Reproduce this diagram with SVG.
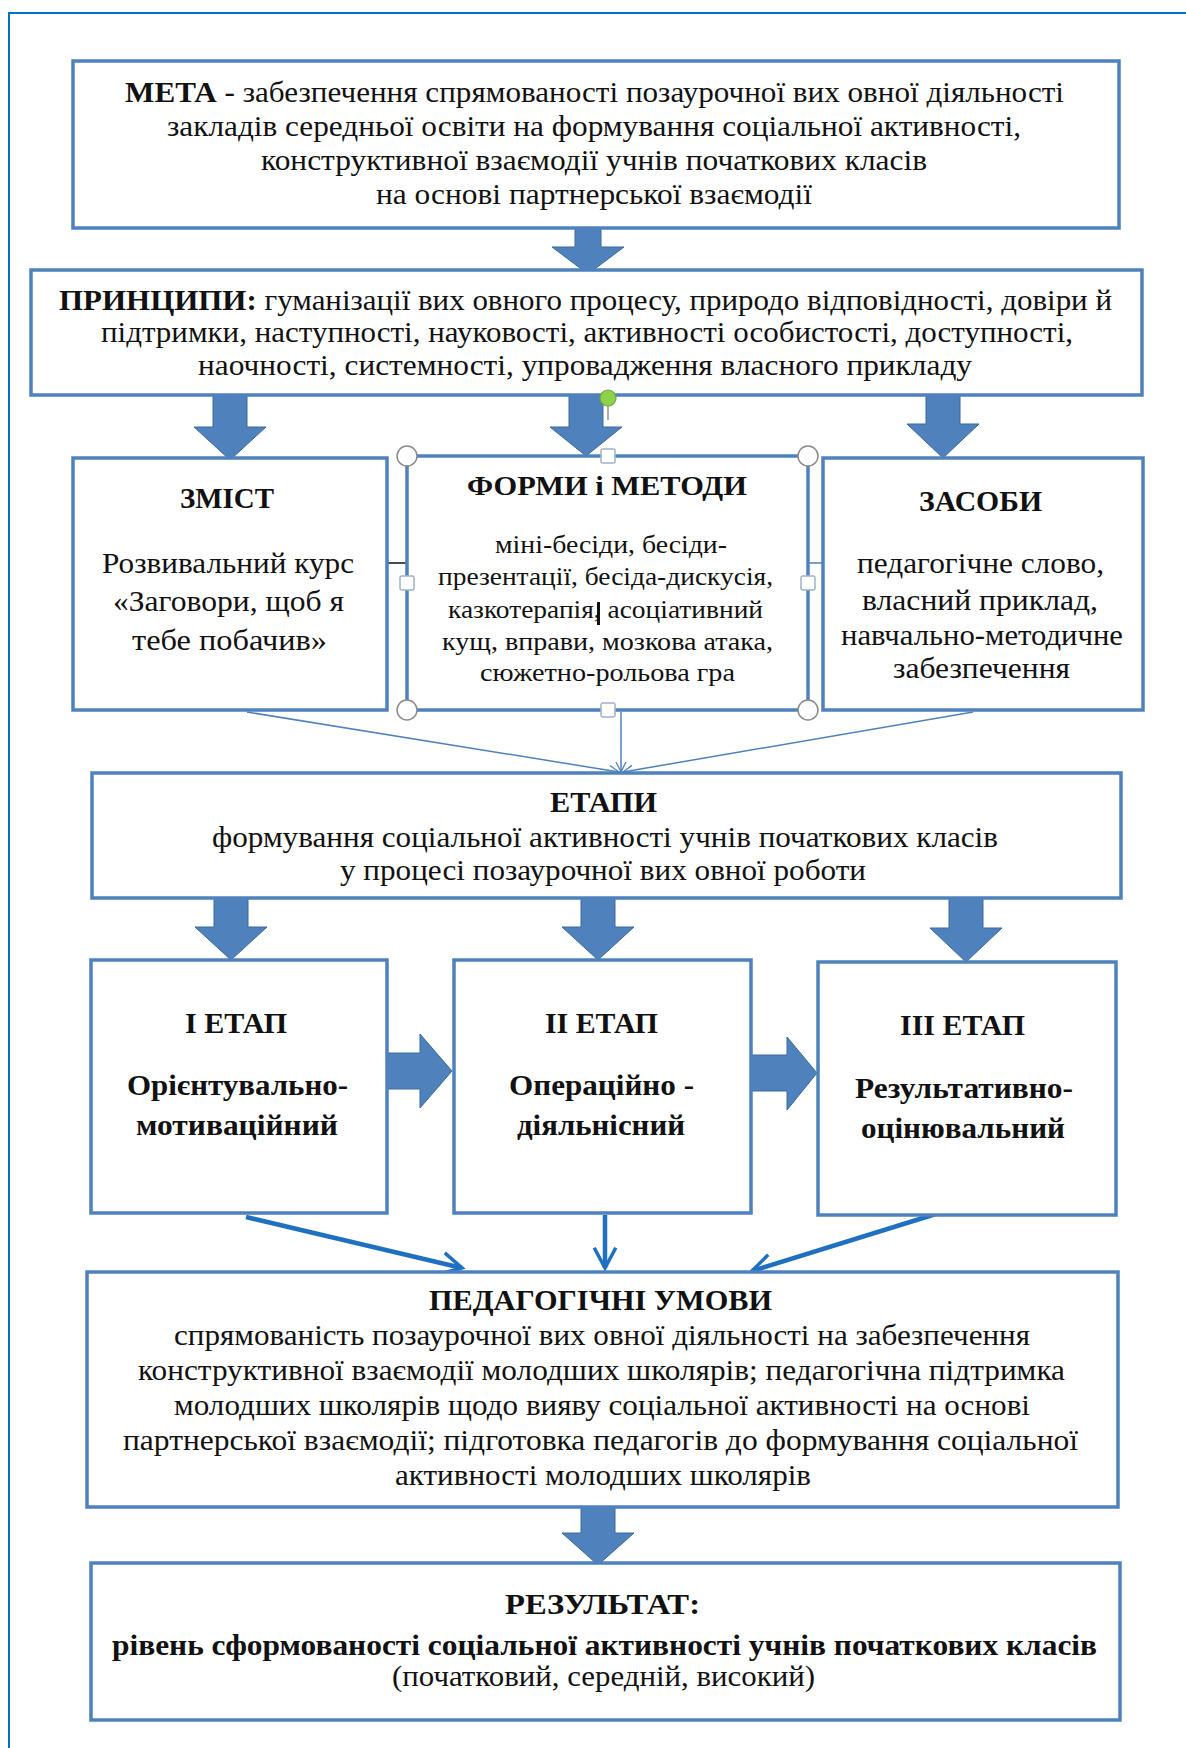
<svg xmlns="http://www.w3.org/2000/svg" width="1186" height="1748" viewBox="0 0 1186 1748">
<defs>
<style>
.box{fill:#fff;stroke:#4F81BD;stroke-width:3.5}
.frame{fill:none;stroke:#0070C0;stroke-width:2}
.blk{fill:#4F81BD;stroke:#3A6A9E;stroke-width:1}
.t{font-family:"Liberation Serif","Times New Roman",serif;fill:#111;text-anchor:middle;font-size:29px}
.b{font-weight:bold}
.s{font-size:26px}
.thin{fill:none;stroke:#4F81BD;stroke-width:1.5}
.thick{fill:none;stroke:#1F70C1;stroke-width:4.5}
.hc{fill:#fff;stroke:#8a8a8a;stroke-width:1.5}
.hs{fill:#fff;stroke:#9fb3c8;stroke-width:1.5}
</style>
<marker id="mThin" viewBox="0 0 12 12" refX="11" refY="6" markerWidth="12" markerHeight="12" markerUnits="userSpaceOnUse" orient="auto">
<path d="M1,1 L11,6 L1,11" fill="none" stroke="#4F81BD" stroke-width="1.3"/>
</marker>
<marker id="mThick" viewBox="0 0 10 10" refX="8.5" refY="5" markerWidth="6" markerHeight="6" orient="auto">
<path d="M1,1 L8.5,5 L1,9" fill="none" stroke="#1F70C1" stroke-width="1.3"/>
</marker>
</defs>
<rect width="1186" height="1748" fill="#fff"/>
<rect class="frame" x="9" y="13" width="1200" height="1800"/>

<g id="connectors">
<line class="thin" x1="247" y1="712" x2="619" y2="772" marker-end="url(#mThin)"/>
<line class="thin" x1="621" y1="712" x2="621" y2="772" marker-end="url(#mThin)"/>
<line class="thin" x1="973" y1="712" x2="623" y2="772" marker-end="url(#mThin)"/>
<line class="thin" x1="808" y1="563" x2="823" y2="563"/>
<line x1="388" y1="563" x2="410" y2="563" stroke="#111" stroke-width="1.5"/>
<line class="thick" x1="246" y1="1217" x2="462" y2="1268" marker-end="url(#mThick)"/>
<line class="thick" x1="605" y1="1215" x2="605" y2="1268" marker-end="url(#mThick)"/>
<line class="thick" x1="952" y1="1209" x2="752" y2="1271" marker-end="url(#mThick)"/>
<polygon class="blk" points="575,228 601,228 601,247 624,247 588,274 552,247 575,247"/>
<polygon class="blk" points="213,395 247,395 247,427 266,427 230,460 194,427 213,427"/>
<polygon class="blk" points="569,395 603,395 603,427 622,427 586,456 550,427 569,427"/>
<polygon class="blk" points="926,395 960,395 960,424 979,424 943,458 907,424 926,424"/>
<polygon class="blk" points="214,898 248,898 248,927 267,927 231,960 195,927 214,927"/>
<polygon class="blk" points="581,898 615,898 615,927 634,927 598,960 562,927 581,927"/>
<polygon class="blk" points="949,898 983,898 983,928 1002,928 966,962 930,928 949,928"/>
<polygon class="blk" points="387,1053 420,1053 420,1034 452,1071 420,1108 420,1089 387,1089"/>
<polygon class="blk" points="751,1055 787,1055 787,1037 817,1073 787,1110 787,1091 751,1091"/>
<polygon class="blk" points="581,1507 615,1507 615,1533 634,1533 598,1565 562,1533 581,1533"/>
</g>

<g id="meta">
<rect class="box" x="73" y="61" width="1046" height="167"/>
<text class="t" x="594.5" y="102" textLength="939" lengthAdjust="spacingAndGlyphs"><tspan class="b">МЕТА</tspan> - забезпечення спрямованості позаурочної вих овної діяльності</text>
<text class="t" x="594" y="136" textLength="854" lengthAdjust="spacingAndGlyphs">закладів середньої освіти на формування соціальної активності,</text>
<text class="t" x="594" y="170" textLength="666" lengthAdjust="spacingAndGlyphs">конструктивної взаємодії учнів початкових класів</text>
<text class="t" x="594" y="204" textLength="436" lengthAdjust="spacingAndGlyphs">на основі партнерської взаємодії</text>
</g>

<g id="pryntsypy">
<rect class="box" x="31" y="270" width="1111" height="125"/>
<text class="t" x="585.5" y="310" textLength="1053" lengthAdjust="spacingAndGlyphs"><tspan class="b">ПРИНЦИПИ:</tspan>  гуманізації вих овного процесу, природо відповідності, довіри й</text>
<text class="t" x="587" y="342" textLength="972" lengthAdjust="spacingAndGlyphs">підтримки, наступності, науковості, активності особистості, доступності,</text>
<text class="t" x="585" y="375" textLength="774" lengthAdjust="spacingAndGlyphs">наочності, системності, упровадження власного прикладу</text>
</g>

<g id="zmist">
<rect class="box" x="73" y="458" width="314" height="252"/>
<text class="t b" x="227" y="508" textLength="94" lengthAdjust="spacingAndGlyphs">ЗМІСТ</text>
<text class="t" x="228" y="573" textLength="252" lengthAdjust="spacingAndGlyphs">Розвивальний курс</text>
<text class="t" x="228.5" y="611" textLength="231" lengthAdjust="spacingAndGlyphs">«Заговори, щоб я</text>
<text class="t" x="229.5" y="650" textLength="195" lengthAdjust="spacingAndGlyphs">тебе побачив»</text>
</g>

<g id="formy">
<rect class="box" x="407" y="456" width="401" height="254"/>
<text class="t b" x="607" y="495" textLength="280" lengthAdjust="spacingAndGlyphs" style="font-size:27px">ФОРМИ і МЕТОДИ</text>
<text class="t s" x="611" y="553" textLength="232" lengthAdjust="spacingAndGlyphs">міні-бесіди,  бесіди-</text>
<text class="t s" x="605.5" y="585" textLength="335" lengthAdjust="spacingAndGlyphs">презентації,  бесіда-дискусія,</text>
<text class="t s" x="605.5" y="618" textLength="315" lengthAdjust="spacingAndGlyphs">казкотерапія, асоціативний</text>
<text class="t s" x="607.5" y="650" textLength="331" lengthAdjust="spacingAndGlyphs">кущ, вправи, мозкова атака,</text>
<text class="t s" x="607.5" y="681" textLength="255" lengthAdjust="spacingAndGlyphs">сюжетно-рольова гра</text>
<rect x="597" y="602" width="3" height="23" fill="#111"/>
<line x1="608" y1="406" x2="608" y2="420" stroke="#777" stroke-width="1.2"/>
<circle cx="608" cy="398" r="8" fill="#8ed14b" stroke="#6aa83a" stroke-width="1.2"/>
<circle class="hc" cx="407" cy="456" r="10"/>
<circle class="hc" cx="808" cy="456" r="10"/>
<circle class="hc" cx="407" cy="710" r="10"/>
<circle class="hc" cx="808" cy="710" r="10"/>
<rect class="hs" x="601" y="449" width="14" height="14" rx="2"/>
<rect class="hs" x="601" y="703" width="14" height="14" rx="2"/>
<rect class="hs" x="400" y="576" width="14" height="14" rx="2"/>
<rect class="hs" x="801" y="576" width="14" height="14" rx="2"/>
</g>

<g id="zasoby">
<rect class="box" x="823" y="458" width="320" height="252"/>
<text class="t b" x="980.5" y="511" textLength="123" lengthAdjust="spacingAndGlyphs">ЗАСОБИ</text>
<text class="t" x="980.5" y="573" textLength="247" lengthAdjust="spacingAndGlyphs">педагогічне слово,</text>
<text class="t" x="980" y="610" textLength="236" lengthAdjust="spacingAndGlyphs">власний приклад,</text>
<text class="t" x="982" y="645" textLength="282" lengthAdjust="spacingAndGlyphs">навчально-методичне</text>
<text class="t" x="981.5" y="678" textLength="177" lengthAdjust="spacingAndGlyphs">забезпечення</text>
</g>

<g id="etapy">
<rect class="box" x="92" y="773" width="1029" height="125"/>
<text class="t b" x="603.5" y="812" textLength="107" lengthAdjust="spacingAndGlyphs">ЕТАПИ</text>
<text class="t" x="605" y="847" textLength="786" lengthAdjust="spacingAndGlyphs">формування соціальної активності учнів початкових класів</text>
<text class="t" x="603" y="880" textLength="526" lengthAdjust="spacingAndGlyphs">у процесі позаурочної вих овної роботи</text>
</g>

<g id="etap1">
<rect class="box" x="91" y="960" width="296" height="253"/>
<text class="t b" x="236" y="1033" textLength="102" lengthAdjust="spacingAndGlyphs">І ЕТАП</text>
<text class="t b" x="237.5" y="1095" textLength="221" lengthAdjust="spacingAndGlyphs">Орієнтувально-</text>
<text class="t b" x="237" y="1135" textLength="202" lengthAdjust="spacingAndGlyphs">мотиваційний</text>
</g>

<g id="etap2">
<rect class="box" x="454" y="960" width="297" height="253"/>
<text class="t b" x="601.5" y="1033" textLength="113" lengthAdjust="spacingAndGlyphs">ІІ ЕТАП</text>
<text class="t b" x="601.5" y="1095" textLength="185" lengthAdjust="spacingAndGlyphs">Операційно -</text>
<text class="t b" x="601" y="1135" textLength="168" lengthAdjust="spacingAndGlyphs">діяльнісний</text>
</g>

<g id="etap3">
<rect class="box" x="818" y="962" width="298" height="253"/>
<text class="t b" x="962.5" y="1035" textLength="125" lengthAdjust="spacingAndGlyphs">ІІІ ЕТАП</text>
<text class="t b" x="964" y="1098" textLength="218" lengthAdjust="spacingAndGlyphs">Результативно-</text>
<text class="t b" x="963" y="1138" textLength="204" lengthAdjust="spacingAndGlyphs">оцінювальний</text>
</g>

<g id="umovy">
<rect class="box" x="87" y="1272" width="1031" height="235"/>
<text class="t b" x="600.5" y="1310" textLength="343" lengthAdjust="spacingAndGlyphs">ПЕДАГОГІЧНІ УМОВИ</text>
<text class="t" x="602" y="1345" textLength="856" lengthAdjust="spacingAndGlyphs">спрямованість позаурочної вих овної діяльності на забезпечення</text>
<text class="t" x="601.5" y="1380" textLength="927" lengthAdjust="spacingAndGlyphs">конструктивної взаємодії молодших  школярів; педагогічна підтримка</text>
<text class="t" x="602" y="1415" textLength="856" lengthAdjust="spacingAndGlyphs">молодших школярів щодо вияву соціальної активності на  основі</text>
<text class="t" x="600.5" y="1450" textLength="955" lengthAdjust="spacingAndGlyphs">партнерської взаємодії; підготовка педагогів до формування соціальної</text>
<text class="t" x="603" y="1485" textLength="416" lengthAdjust="spacingAndGlyphs">активності молодших  школярів</text>
</g>

<g id="rezultat">
<rect class="box" x="91" y="1563" width="1029" height="157"/>
<text class="t b" x="602.5" y="1614" textLength="195" lengthAdjust="spacingAndGlyphs">РЕЗУЛЬТАТ:</text>
<text class="t b" x="604.5" y="1655" textLength="985" lengthAdjust="spacingAndGlyphs">рівень сформованості соціальної активності учнів початкових класів</text>
<text class="t" x="603.5" y="1686" textLength="423" lengthAdjust="spacingAndGlyphs">(початковий, середній, високий)</text>
</g>
</svg>
